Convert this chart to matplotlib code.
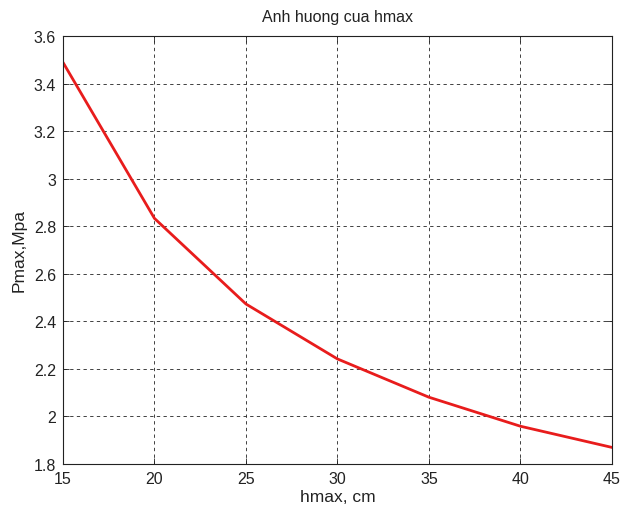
import matplotlib
matplotlib.use("Agg")
import matplotlib.pyplot as plt

hmax = [15, 20, 25, 30, 35, 40, 45]
pmax = [3.489, 2.833, 2.473, 2.242, 2.081, 1.959, 1.870]
xticks = [15, 20, 25, 30, 35, 40, 45]
yticks = [1.8, 2.0, 2.2, 2.4, 2.6, 2.8, 3.0, 3.2, 3.4, 3.6]
ytick_labels = ["1.8", "2", "2.2", "2.4", "2.6", "2.8", "3", "3.2", "3.4", "3.6"]

plt.rcParams["font.family"] = ["Liberation Sans", "DejaVu Sans"]
plt.rcParams["font.size"] = 11.5
plt.rcParams["text.color"] = "#222222"
plt.rcParams["xtick.color"] = "#222222"
plt.rcParams["ytick.color"] = "#222222"
plt.rcParams["axes.labelcolor"] = "#222222"

fig = plt.figure(figsize=(6.23, 5.1), dpi=100)
ax = fig.add_axes([0.1011, 0.0882, 0.8809, 0.8393])

ax.plot(hmax, pmax, color="#e81c1c", linewidth=2)

ax.set_xlim(15, 45)
ax.set_ylim(1.8, 3.6)
ax.set_xticks(xticks)
ax.set_yticks(yticks)
ax.set_yticklabels(ytick_labels)
ax.grid(True, color="#222222", linestyle=(0, (4, 4)), linewidth=0.6)
ax.tick_params(direction="in", length=4, width=0.6, top=True, right=True,
               labelsize=11.5)
ax.tick_params(axis="x", pad=5)
ax.tick_params(axis="y", pad=5)
for s in ax.spines.values():
    s.set_linewidth(0.8)
    s.set_color("#222222")

ax.set_title("Anh huong cua hmax", fontsize=11.5, pad=11)
ax.set_xlabel("hmax, cm", fontsize=12.5, labelpad=2)
ax.set_ylabel("Pmax,Mpa", fontsize=12.5, labelpad=5)

fig.savefig("out.png", dpi=100)
